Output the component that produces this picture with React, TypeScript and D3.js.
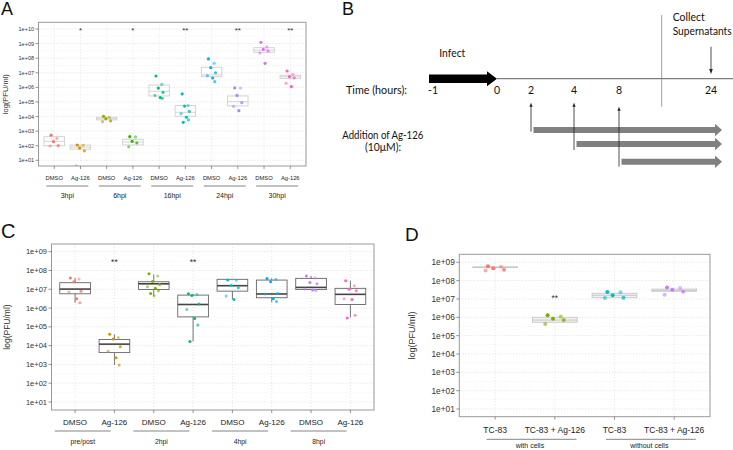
import React from 'react';
import * as d3 from 'd3';

// ---------------- DATA ----------------
// Panel A (log10 PFU/ml)
const A_TREATMENTS = ['DMSO', 'Ag-126', 'DMSO', 'Ag-126', 'DMSO', 'Ag-126', 'DMSO', 'Ag-126', 'DMSO', 'Ag-126'];
const A_GROUPS = ['3hpi', '6hpi', '16hpi', '24hpi', '30hpi'];
const A_POINTS = [
  [2.72, 2.5, 2.28, 2.0, 1.98],
  [2.05, 2.03, 1.85, 1.65, 0.6],
  [4.02, 3.95, 3.85, 3.7, 3.65],
  [2.62, 2.6, 2.3, 2.2, 1.93],
  [6.78, 6.2, 5.95, 5.65, 5.45, 5.3, 5.25],
  [5.55, 4.75, 4.72, 4.35, 4.2, 3.95, 3.77, 3.6],
  [7.95, 7.65, 7.35, 7.0, 6.8, 6.64, 6.39],
  [5.96, 5.95, 5.45, 4.95, 4.7, 4.4],
  [9.09, 8.77, 8.6, 8.5, 8.36, 7.65],
  [7.12, 6.9, 6.74, 6.65, 6.28, 6.05],
];
const A_BOXES = [
  [2.0, 2.3, 2.62],
  [1.76, 1.9, 2.05],
  [3.77, 3.85, 3.95],
  [2.05, 2.25, 2.44],
  [5.41, 5.73, 6.16],
  [4.02, 4.29, 4.75],
  [6.73, 6.85, 7.38],
  [4.73, 5.02, 5.41],
  [8.4, 8.55, 8.72],
  [6.6, 6.72, 6.83],
];
const A_SIG = ['', '*', '', '*', '', '**', '', '**', '', '**'];
const A_SIG_LEVEL = 10;

// Panel C
const C_TREATMENTS = ['DMSO', 'Ag-126', 'DMSO', 'Ag-126', 'DMSO', 'Ag-126', 'DMSO', 'Ag-126'];
const C_GROUPS = ['pre/post', '2hpi', '4hpi', '8hpi'];
const C_POINTS = [
  [7.6, 7.55, 7.4, 6.9, 6.85, 6.5, 6.28],
  [4.6, 4.43, 4.35, 3.94, 3.7, 3.35, 2.97],
  [7.82, 7.7, 7.42, 7.26, 7.13, 7.05, 6.92, 6.78, 6.65],
  [6.76, 6.72, 6.67, 6.21, 5.93, 5.45, 5.1, 4.22],
  [7.5, 7.48, 7.2, 7.08, 6.64, 6.46],
  [7.58, 7.54, 7.4, 6.78, 6.75, 6.49, 6.35],
  [7.71, 7.6, 7.36, 7.3, 7.01, 6.96, 6.94],
  [7.45, 7.19, 7.0, 6.92, 6.49, 6.45, 5.62, 5.47],
];
// [low whisker, q1, median, q3, high whisker]
const C_BOXES = [
  [6.28, 6.76, 7.01, 7.35, 7.61],
  [2.97, 3.63, 4.08, 4.33, 4.6],
  [6.62, 6.99, 7.29, 7.4, 7.79],
  [4.22, 5.53, 6.19, 6.69, 6.76],
  [6.46, 6.9, 7.19, 7.53, 7.53],
  [6.3, 6.55, 6.75, 7.49, 7.58],
  [6.96, 6.99, 7.1, 7.58, 7.71],
  [5.5, 6.19, 6.73, 7.05, 7.45],
];
const C_SIG = ['', '**', '', '**', '', '', '', ''];
const C_SIG_LEVEL = 8.55;

// Panel D
const D_TREATMENTS = ['TC-83', 'TC-83 + Ag-126', 'TC-83', 'TC-83 + Ag-126'];
const D_GROUPS = ['with cells', 'without cells'];
const D_POINTS = [
  [8.78, 8.76, 8.67, 8.6, 8.55],
  [6.11, 6.05, 5.92, 5.85, 5.63],
  [7.38, 7.37, 7.2, 7.07, 7.05],
  [7.63, 7.6, 7.5, 7.4, 7.23],
];
const D_BOXES = [
  [8.71, 8.73, 8.75],
  [5.73, 5.85, 6.0],
  [7.07, 7.2, 7.31],
  [7.42, 7.47, 7.54],
];
const D_SIG = ['', '**', '', ''];
const D_SIG_LEVEL = 7.15;

// Panel B (schematic)
const B_TIME_TICKS = [-1, 0, 2, 4, 8, 24];
const B_INFECT = [-1, 0];
const B_ADD_TIMES = [2, 4, 8];
const B_COLLECT_TIME = 24;

// ---------------- STYLE ----------------
const HUE10 = ['#F8766D', '#D89000', '#A3A500', '#39B600', '#00BF7D', '#00BFC4', '#00B0F6', '#9590FF', '#E76BF3', '#FF62BC'];
const HUE8 = ['#F8766D', '#CD9600', '#7CAE00', '#00BE67', '#00BFC4', '#00A9FF', '#C77CFF', '#FF61CC'];
const HUE4 = ['#F8766D', '#7CAE00', '#00BFC4', '#C77CFF'];
const JITTER = [-0.12, 0.1, -0.03, 0.15, -0.16, 0.04, 0.12, -0.08, 0.01];
const ALPHA = [1, 0.55, 1, 0.8, 0.6, 1, 0.7, 1, 0.5];
const FONT = "Liberation Sans, Arial, Helvetica, sans-serif";
const CAL = "Lato, Open Sans, sans-serif";

type Cfg = {
  id: string;
  left: number; right: number; top: number; bottom: number;
  yBottom: number; yTop: number; topExp: number;
  treatments: string[]; groups: string[];
  points: number[][]; boxes: number[][]; colors: string[];
  sig: string[]; sigLevel: number;
  tickFont: number; catFont: number; groupFont: number; titleFont: number; sigFont: number;
  titleX: number;
  catY: number; lineY: number; groupY: number;
  lineOffset: number; lineHalf: number; groupOffset: number;
  boxFrac: number; boxStroke: string; medianStroke: string; medianWidth: number; boxFill: string;
  radius: number; jitterScale: number;
};

function BoxPanel({ c }: { c: Cfg }) {
  const keys = c.treatments.map((_, i) => String(i));
  const x = d3.scalePoint<string>().domain(keys).range([c.left, c.right]).padding(0.6);
  const y = d3.scaleLog().domain([10, Math.pow(10, c.topExp)]).range([c.yBottom, c.yTop]);
  const ly = (v: number) => y(Math.pow(10, v));
  const step = x.step();
  const bw = step * c.boxFrac;
  const majors = d3.range(1, c.topExp + 1);
  const minors = d3.range(0.5, c.topExp + 1, 1).filter((e) => ly(e) > c.top && ly(e) < c.bottom);
  const cx = (i: number) => x(String(i)) as number;
  const midY = (c.top + c.bottom) / 2;
  return (
    <g>
      <defs>
        <clipPath id={`clip-${c.id}`}>
          <rect x={c.left} y={c.top} width={c.right - c.left} height={c.bottom - c.top} />
        </clipPath>
      </defs>
      {minors.map((e) => (
        <line key={'mi' + e} x1={c.left} x2={c.right} y1={ly(e)} y2={ly(e)} stroke="#e2e2e2" strokeWidth={0.6} strokeDasharray="1,2" />
      ))}
      {majors.map((e) => (
        <line key={'ma' + e} x1={c.left} x2={c.right} y1={ly(e)} y2={ly(e)} stroke="#d0d0d0" strokeWidth={0.7} strokeDasharray="1,2" />
      ))}
      {keys.map((k, i) => (
        <line key={'vg' + i} x1={cx(i)} x2={cx(i)} y1={c.top} y2={c.bottom} stroke="#d8d8d8" strokeWidth={0.7} strokeDasharray="1,2" />
      ))}
      {/* boxes */}
      {c.boxes.map((b, i) => {
        const has5 = b.length === 5;
        const q1 = has5 ? b[1] : b[0];
        const med = has5 ? b[2] : b[1];
        const q3 = has5 ? b[3] : b[2];
        const xc = cx(i);
        return (
          <g key={'bx' + i}>
            {has5 && (
              <>
                <line x1={xc} x2={xc} y1={ly(q3)} y2={ly(b[4])} stroke={c.boxStroke} strokeWidth={0.9} />
                <line x1={xc} x2={xc} y1={ly(q1)} y2={ly(b[0])} stroke={c.boxStroke} strokeWidth={0.9} />
              </>
            )}
            <rect x={xc - bw / 2} y={ly(q3)} width={bw} height={Math.max(0.5, ly(q1) - ly(q3))} fill={c.boxFill} stroke={c.boxStroke} strokeWidth={0.9} />
            <line x1={xc - bw / 2} x2={xc + bw / 2} y1={ly(med)} y2={ly(med)} stroke={c.medianStroke} strokeWidth={c.medianWidth} />
          </g>
        );
      })}
      {/* points */}
      <g clipPath={`url(#clip-${c.id})`}>
        {c.points.map((arr, i) =>
          arr.map((v, j) => (
            <circle key={`p${i}-${j}`} cx={cx(i) + JITTER[j % JITTER.length] * step * c.jitterScale} cy={ly(v)} r={c.radius} fill={c.colors[i]} fillOpacity={ALPHA[j % ALPHA.length]} />
          ))
        )}
      </g>
      {/* significance */}
      {c.sig.map((s, i) =>
        s ? (
          <text key={'sg' + i} x={cx(i)} y={ly(c.sigLevel) + c.sigFont * 0.55} textAnchor="middle" fontSize={c.sigFont} fontFamily={FONT} fill="#333">{s}</text>
        ) : null
      )}
      {/* frame */}
      <rect x={c.left} y={c.top} width={c.right - c.left} height={c.bottom - c.top} fill="none" stroke="#999" strokeWidth={1} />
      {/* y axis */}
      {majors.map((e) => (
        <g key={'yt' + e}>
          <line x1={c.left - 3} x2={c.left} y1={ly(e)} y2={ly(e)} stroke="#777" strokeWidth={0.8} />
          <text x={c.left - 4.5} y={ly(e)} dominantBaseline="central" textAnchor="end" fontSize={c.tickFont} fontFamily={FONT} fill="#333">
            {`1e+${String(e).padStart(2, '0')}`}
          </text>
        </g>
      ))}
      <text transform={`translate(${c.titleX},${midY}) rotate(-90)`} textAnchor="middle" dominantBaseline="central" fontSize={c.titleFont} fontFamily={FONT} fill="#333">
        log(PFU/ml)
      </text>
      {/* x axis */}
      {c.treatments.map((t, i) => (
        <g key={'xt' + i}>
          <line x1={cx(i)} x2={cx(i)} y1={c.bottom} y2={c.bottom + 3} stroke="#777" strokeWidth={0.8} />
          <text x={cx(i)} y={c.catY} textAnchor="middle" dominantBaseline="central" fontSize={c.catFont} fontFamily={FONT} fill="#222">{t}</text>
        </g>
      ))}
      {c.groups.map((g, gi) => {
        const m = (cx(2 * gi) + cx(2 * gi + 1)) / 2;
        return (
          <g key={'gr' + gi}>
            <line x1={m + c.lineOffset - c.lineHalf} x2={m + c.lineOffset + c.lineHalf} y1={c.lineY} y2={c.lineY} stroke="#666" strokeWidth={0.8} />
            <text x={m + c.groupOffset} y={c.groupY} textAnchor="middle" dominantBaseline="central" fontSize={c.groupFont} fontFamily={FONT} fill="#222">{g}</text>
          </g>
        );
      })}
    </g>
  );
}

function PanelB() {
  const x = d3.scaleLinear().domain(B_TIME_TICKS).range([433, 497, 531, 574, 619, 711]);
  const lineY = 78.7;
  const labelY = 89.5;
  const ax0 = x(B_INFECT[0]) - 4;
  const ax1 = x(B_INFECT[1]);
  const blackArrow = `M${ax0},${lineY - 4.3} L${ax1 - 10},${lineY - 4.3} L${ax1 - 10},${lineY - 7.5} L${ax1},${lineY} L${ax1 - 10},${lineY + 7.5} L${ax1 - 10},${lineY + 4.3} L${ax0},${lineY + 4.3} Z`;
  const grayY = [130, 144, 161.7];
  const upBottom = [131.7, 150, 166.7];
  const upTop = [102.7, 102.7, 106.7];
  const tip = 722;
  const gray = (x0: number, yc: number) =>
    `M${x0},${yc - 3} L${tip - 7},${yc - 3} L${tip - 7},${yc - 6.2} L${tip},${yc} L${tip - 7},${yc + 6.2} L${tip - 7},${yc + 3} L${x0},${yc + 3} Z`;
  const xc = x(B_COLLECT_TIME);
  return (
    <g fontFamily={CAL} fill="#111">
      <text x={342} y={15} fontSize={18} fontFamily={FONT} fill="#111">B</text>
      <text x={439.3} y={53.3} dominantBaseline="central" fontSize={10.5} textLength={26} lengthAdjust="spacingAndGlyphs">Infect</text>
      <text x={346} y={labelY} dominantBaseline="central" fontSize={10.5} textLength={61} lengthAdjust="spacingAndGlyphs">Time (hours):</text>
      <line x1={ax1} x2={733} y1={lineY} y2={lineY} stroke="#333" strokeWidth={0.8} />
      <path d={blackArrow} fill="#000" />
      {B_TIME_TICKS.map((t) => (
        <text key={'t' + t} x={x(t)} y={labelY} textAnchor="middle" dominantBaseline="central" fontSize={10.5}>{String(t)}</text>
      ))}
      <line x1={661.7} x2={661.7} y1={15} y2={106.7} stroke="#888" strokeWidth={0.8} />
      <text x={672.7} y={17} dominantBaseline="central" fontSize={10.5} textLength={32} lengthAdjust="spacingAndGlyphs">Collect</text>
      <text x={672.7} y={31} dominantBaseline="central" fontSize={10.5} textLength={59} lengthAdjust="spacingAndGlyphs">Supernatants</text>
      <line x1={xc} x2={xc} y1={46.7} y2={70} stroke="#222" strokeWidth={0.8} />
      <path d={`M${xc - 1.8},${69} L${xc + 1.8},${69} L${xc},${74} Z`} fill="#222" />
      <text x={342.3} y={135} dominantBaseline="central" fontSize={10.5} textLength={81} lengthAdjust="spacingAndGlyphs">Addition of Ag-126</text>
      <text x={365} y={147} dominantBaseline="central" fontSize={10.5} textLength={36} lengthAdjust="spacingAndGlyphs">(10μM):</text>
      {B_ADD_TIMES.map((t, i) => (
        <g key={'a' + t}>
          <path d={gray(x(t) + 2.5, grayY[i])} fill="#808080" />
          <line x1={x(t)} x2={x(t)} y1={upBottom[i]} y2={upTop[i] + 3} stroke="#222" strokeWidth={0.8} />
          <path d={`M${x(t) - 1.6},${upTop[i] + 4} L${x(t) + 1.6},${upTop[i] + 4} L${x(t)},${upTop[i]} Z`} fill="#222" />
        </g>
      ))}
    </g>
  );
}

const cfgA: Cfg = {
  id: 'A', left: 38.5, right: 306, top: 22.3, bottom: 166,
  yBottom: 160.3, yTop: 29, topExp: 10,
  treatments: A_TREATMENTS, groups: A_GROUPS, points: A_POINTS, boxes: A_BOXES, colors: HUE10,
  sig: A_SIG, sigLevel: A_SIG_LEVEL,
  tickFont: 5.5, catFont: 5.8, groupFont: 7, titleFont: 7.5, sigFont: 8,
  titleX: 5.5, catY: 177.5, lineY: 186, groupY: 195,
  lineOffset: 0, lineHalf: 21, groupOffset: 0,
  boxFrac: 0.78, boxStroke: '#cfcfcf', medianStroke: '#cfcfcf', medianWidth: 0.9, boxFill: 'none',
  radius: 1.6, jitterScale: 1,
};

const cfgC: Cfg = {
  id: 'C', left: 51.5, right: 374, top: 244, bottom: 410,
  yBottom: 402, yTop: 251.7, topExp: 9,
  treatments: C_TREATMENTS, groups: C_GROUPS, points: C_POINTS, boxes: C_BOXES, colors: HUE8,
  sig: C_SIG, sigLevel: C_SIG_LEVEL,
  tickFont: 7.5, catFont: 8, groupFont: 6.8, titleFont: 8.5, sigFont: 8.5,
  titleX: 7, catY: 422, lineY: 431, groupY: 441,
  lineOffset: -12, lineHalf: 28, groupOffset: -12,
  boxFrac: 0.78, boxStroke: '#666', medianStroke: '#444', medianWidth: 1.6, boxFill: 'none',
  radius: 1.5, jitterScale: 1,
};

const cfgD: Cfg = {
  id: 'D', left: 459.3, right: 710, top: 254.3, bottom: 416.7,
  yBottom: 409, yTop: 262.3, topExp: 9,
  treatments: D_TREATMENTS, groups: D_GROUPS, points: D_POINTS, boxes: D_BOXES, colors: HUE4,
  sig: D_SIG, sigLevel: D_SIG_LEVEL,
  tickFont: 8.3, catFont: 8.5, groupFont: 7, titleFont: 9, sigFont: 8.5,
  titleX: 412, catY: 429.5, lineY: 439.3, groupY: 445.5,
  lineOffset: 6.5, lineHalf: 45, groupOffset: 5,
  boxFrac: 0.75, boxStroke: '#c8c8c8', medianStroke: '#c8c8c8', medianWidth: 1, boxFill: '#f2f2f2',
  radius: 2, jitterScale: 1,
};

export default function App() {
  return (
    <svg width={733} height={450} viewBox="0 0 733 450" style={{ position: 'absolute', left: 0, top: 0, background: '#fff' }}>
      <rect x={0} y={0} width={733} height={450} fill="#fff" />
      <text x={1} y={15} fontSize={18} fontFamily={FONT} fill="#111">A</text>
      <BoxPanel c={cfgA} />
      <PanelB />
      <text x={1} y={238} fontSize={20} fontFamily={FONT} fill="#111">C</text>
      <BoxPanel c={cfgC} />
      <text x={405} y={241} fontSize={19} fontFamily={FONT} fill="#111">D</text>
      <BoxPanel c={cfgD} />
    </svg>
  );
}
